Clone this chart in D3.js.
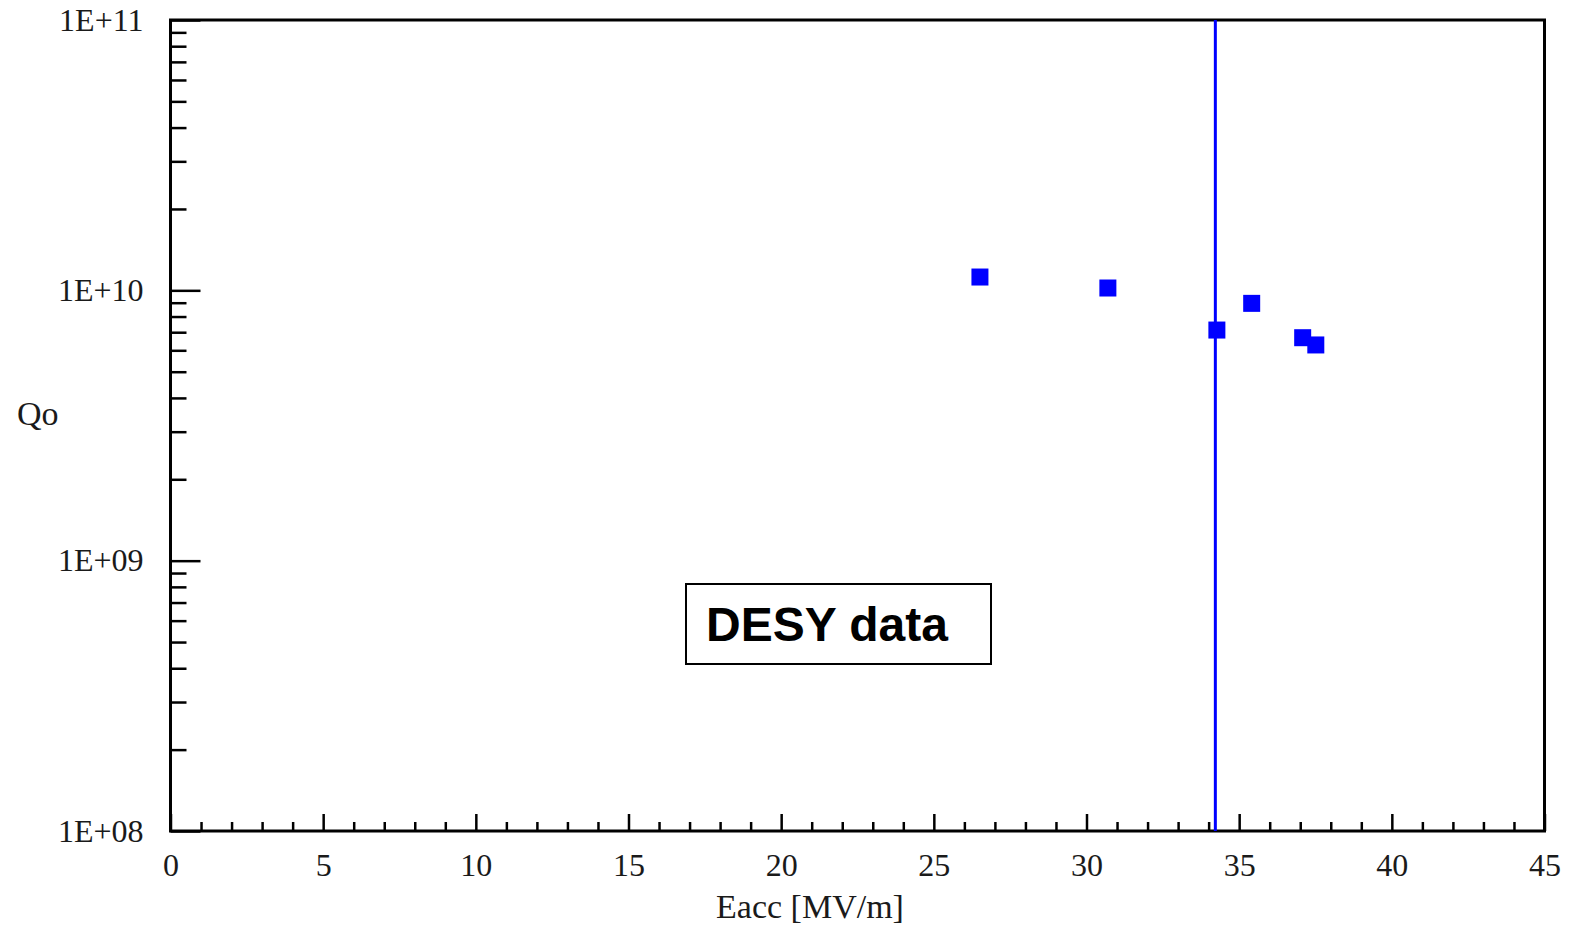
<!DOCTYPE html>
<html>
<head>
<meta charset="utf-8">
<title>Qo vs Eacc</title>
<script src="https://cdn.jsdelivr.net/npm/d3@7"></script>
<style>
  body { margin: 0; background: #fff; }
  .tick text { font-family: "Liberation Serif", "Times New Roman", serif; font-size: 32px; fill: #1a1a1a; }
  .tick line { stroke: #000; stroke-width: 2.5px; }
  .lbl { font-family: "Liberation Serif", "Times New Roman", serif; font-size: 34px; fill: #1a1a1a; }
</style>
</head>
<body>
<div id="chart"></div>
<script>
// data
var eacc = [26.51, 30.70, 34.27, 35.41, 37.08, 37.51];
var qo = [1.12e10, 1.02e10, 7.13e9, 8.95e9, 6.68e9, 6.28e9];
var limitEacc = 34.22;
var xMajor = [0, 5, 10, 15, 20, 25, 30, 35, 40, 45];
var yMajor = [1e8, 1e9, 1e10, 1e11];
var yLabels = ["1E+08", "1E+09", "1E+10", "1E+11"];
var noteText = "DESY data";

var width = 1570, height = 928;
var pLeft = 170.5, pRight = 1544.5, pTop = 20, pBottom = 831;

var svg = d3.select("#chart").append("svg")
  .attr("width", width).attr("height", height);

var x = d3.scaleLinear().domain([0, 45]).range([pLeft, pRight]);
var y = d3.scaleLog().domain([1e8, 1e11]).range([pBottom, pTop]);

var xMinor = d3.range(0, 46).filter(function(d) { return d % 5 != 0; });
var yMinor = [];
[1e8, 1e9, 1e10].forEach(function(dec) {
  for (var k = 2; k <= 9; k++) yMinor.push(dec * k);
});

// x axis
svg.append("g").attr("transform", "translate(0," + pBottom + ")")
  .call(d3.axisBottom(x).tickValues(xMinor).tickSize(-9).tickFormat(""))
  .call(function(g) { g.select(".domain").remove(); });
svg.append("g").attr("transform", "translate(0," + pBottom + ")")
  .call(d3.axisBottom(x).tickValues(xMajor).tickSize(-17).tickPadding(22).tickFormat(d3.format("d")))
  .call(function(g) { g.select(".domain").remove(); g.selectAll(".tick text").attr("fill", null); });

// y axis
svg.append("g").attr("transform", "translate(" + pLeft + ",0)")
  .call(d3.axisLeft(y).tickValues(yMinor).tickSize(-16).tickFormat(""))
  .call(function(g) { g.select(".domain").remove(); });
svg.append("g").attr("transform", "translate(" + pLeft + ",0)")
  .call(d3.axisLeft(y).tickValues(yMajor).tickSize(-30).tickPadding(27)
    .tickFormat(function(d, i) { return yLabels[i]; }))
  .call(function(g) { g.select(".domain").remove(); g.selectAll(".tick text").attr("fill", null); });

// frame
svg.append("rect")
  .attr("x", pLeft).attr("y", pTop)
  .attr("width", pRight - pLeft).attr("height", pBottom - pTop)
  .attr("fill", "none").attr("stroke", "#000").attr("stroke-width", 3);

// vertical limit line
svg.append("line")
  .attr("x1", x(limitEacc)).attr("x2", x(limitEacc))
  .attr("y1", y(1e11)).attr("y2", y(1e8))
  .attr("stroke", "#0000ff").attr("stroke-width", 3);

// points
var sz = 17;
svg.selectAll(".pt").data(eacc).enter().append("rect")
  .attr("class", "pt")
  .attr("x", function(d) { return x(d) - sz / 2; })
  .attr("y", function(d, i) { return y(qo[i]) - sz / 2; })
  .attr("width", sz).attr("height", sz)
  .attr("fill", "#0000ff");

// axis titles
svg.append("text").attr("class", "lbl")
  .attr("x", 810).attr("y", 918).attr("text-anchor", "middle")
  .text("Eacc [MV/m]");
svg.append("text").attr("class", "lbl")
  .attr("x", 17).attr("y", 425)
  .text("Qo");

// annotation box
var note = svg.append("g");
note.append("rect")
  .attr("x", 686).attr("y", 584).attr("width", 305).attr("height", 80)
  .attr("fill", "#fff").attr("stroke", "#000").attr("stroke-width", 2);
note.append("text")
  .attr("x", 706).attr("y", 641)
  .style("font-family", "'Liberation Sans', Arial, sans-serif")
  .style("font-weight", "bold").style("font-size", "48px")
  .text(noteText);
</script>
</body>
</html>
